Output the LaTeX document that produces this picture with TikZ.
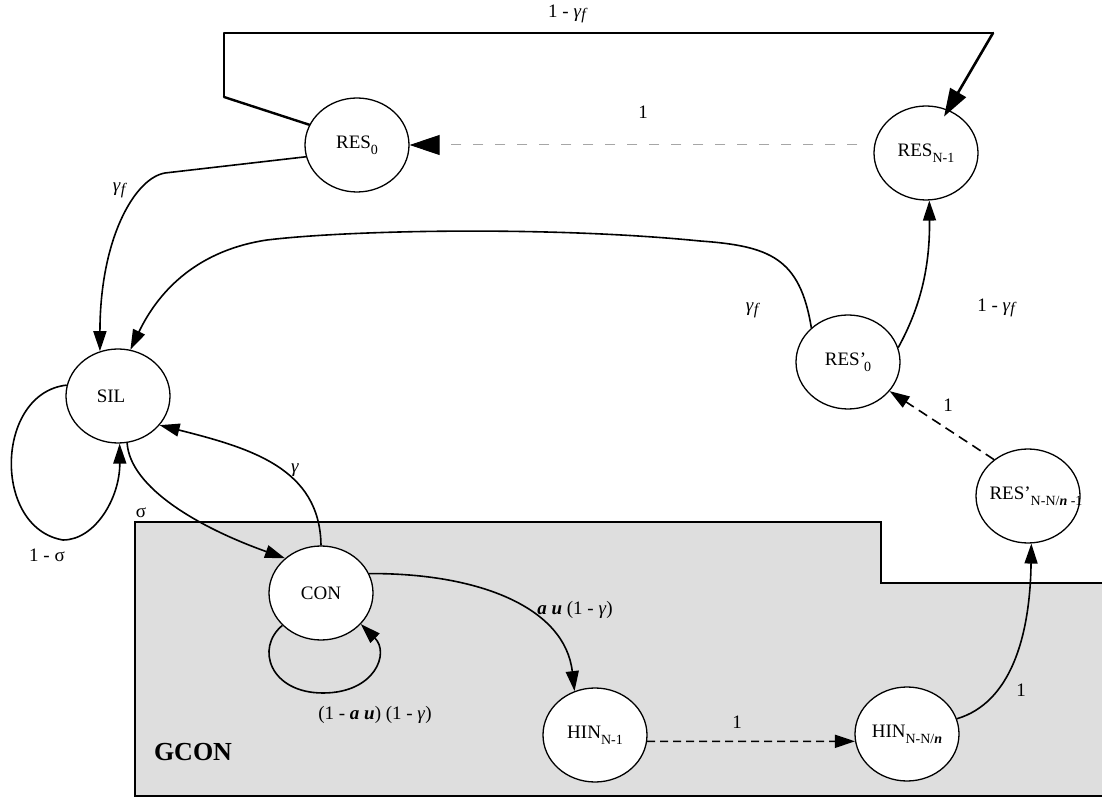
\documentclass[tikz,border=0pt]{standalone}
\usepackage{fontspec}
\setmainfont{Liberation Serif}
\usetikzlibrary{shapes.geometric,arrows.meta}
\newcommand{\lowsub}[1]{\raisebox{-0.32em}{\fontsize{14}{14}\selectfont #1}}
\newcommand{\gsub}[1]{\raisebox{-0.15em}{\fontsize{16}{16}\selectfont #1}}
\newcommand{\bin}{\textbf{\textit{n}}}
\newcommand{\gf}{\textit{γ}\gsub{\textit{f}}}
\begin{document}
\begin{tikzpicture}[x=1pt,y=1pt,
  state/.style={ellipse,draw,line width=1.3pt,fill=white,minimum width=104pt,minimum height=94pt,inner sep=0pt,font=\fontsize{19}{21}\selectfont},
  lab/.style={inner sep=0pt,font=\fontsize{19}{21}\selectfont},
  conn/.style={line width=1.6pt,-{Triangle[length=20pt,width=13pt]}},
]
\useasboundingbox (0,0) rectangle (1102,798);
% GCON region
\fill[black!13] (135,2) -- (135,276) -- (881,276) -- (881,215) -- (1102,215) -- (1102,2) -- cycle;
\draw[line width=1.4pt] (1102,215) -- (881,215) -- (881,276) -- (135,276) -- (135,2) -- (1102,2);
\node[font=\fontsize{26}{28}\selectfont\bfseries] (gcon) at (193,46) {GCON};
% states
\node[state] (RES0) at (357,653) {\makebox[0pt]{RES\lowsub{0}}};
\node[state] (RESN) at (926,645) {\makebox[0pt]{RES\lowsub{N-1}}};
\node[state] (SIL) at (118,402) {\makebox[0pt]{\kern-14pt SIL}};
\node[state] (CON) at (321,205) {\makebox[0pt]{CON}};
\node[state] (HIN1) at (595,63) {\makebox[0pt]{HIN\lowsub{N-1}}};
\node[state] (HIN2) at (907,64) {\makebox[0pt]{HIN\lowsub{N-N/\bin}}};
\node[state] (RESP0) at (848,436) {\makebox[0pt]{RES’\kern-2pt\lowsub{0}}};
\node[state] (RESP1) at (1028,302) {\makebox[0pt]{\kern16pt RES’\lowsub{N-N/\bin{} -1}}};
% top loop RES0 -> RESN
\coordinate (c1) at (224,701);
\coordinate (c2) at (224,765);
\coordinate (c3) at (993,765);
\draw[line width=2.4pt,line cap=round] (RES0.157) -- (c1);
\draw[line width=1.3pt,line join=round] (c1) -- (c2) -- (c3);
\draw[line width=2.6pt,line cap=round,shorten >=-8pt,-{Triangle[length=28pt,width=18pt]}] (c3) -- (RESN.63);
\node[lab] (l1) at (568,784) {1 - \gf};
% RESN -> RES0 dashed
\draw[gray!70,line width=1pt,dash pattern=on 10pt off 12pt,shorten <=16pt,-{Triangle[length=30pt,width=20pt,color=black]}] (RESN.west |- RES0.east) -- (RES0.east);
\node[lab] (l2) at (643,686) {1};
% RES0 -> SIL
\coordinate (c4) at (165,625);
\draw[conn] (RES0.193) -- (c4) .. controls (135,620) and (100,560) .. (SIL.112);
\node[lab] (l3) at (120,608) {\gf};
% RESP0 -> SIL
\draw[conn] (RESP0.137) .. controls (800,540) and (770,552) .. (700,557) .. controls (550,572) and (350,568) .. (267,558) .. controls (200,548) and (160,510) .. (SIL.75);
\node[lab] (l4) at (753,488) {\gf};
% RESP0 -> RESN
\draw[conn] (RESP0.16) .. controls (920,490) and (930,530) .. (RESN.-86);
\node[lab] (l5) at (997,490) {1 - \gf};
% RESP1 -> RESP0
\draw[conn,dash pattern=on 10pt off 6pt] (RESP1.133) -- (RESP0.-35);
\node[lab] (l6) at (948,393) {1};
% HIN2 -> RESP1
\draw[conn] (HIN2.17) .. controls (1010,95) and (1030,160) .. (RESP1.-86);
\node[lab] (l7) at (1021,108) {1};
% HIN1 -> HIN2
\draw[conn,dash pattern=on 8pt off 5pt] (HIN1.-7) -- (HIN2.-172);
\node[lab] (l8) at (737,76) {1};
% CON -> HIN1
\draw[conn] (CON.22) .. controls (480,225) and (565,190) .. (HIN1.115);
\node[lab] (l9) at (575,188) {\textbf{\textit{a u}} (1 - \textit{γ})};
% CON self loop
\draw[conn] (CON.220) .. controls (255,150) and (270,105) .. (323,105) .. controls (375,105) and (390,145) .. (CON.-38);
\node[lab] (l10) at (375,83) {(1 - \textbf{\textit{a u}}) (1 - \textit{γ})};
% SIL -> CON
\draw[conn] (SIL.-79) .. controls (130,310) and (200,270) .. (CON.136);
\node[lab] (l11) at (141,285) {σ};
% CON -> SIL
\draw[conn] (CON.north) .. controls (320,330) and (250,350) .. (SIL.-35);
\node[lab] (l12) at (295,328) {\textit{γ}};
% SIL self loop
\draw[conn] (SIL.168) .. controls (-5,405) and (-8,270) .. (63,258) .. controls (95,258) and (120,300) .. (SIL.-88);
\node[lab] (l13) at (47,243) {1 - σ};
\end{tikzpicture}
\end{document}
